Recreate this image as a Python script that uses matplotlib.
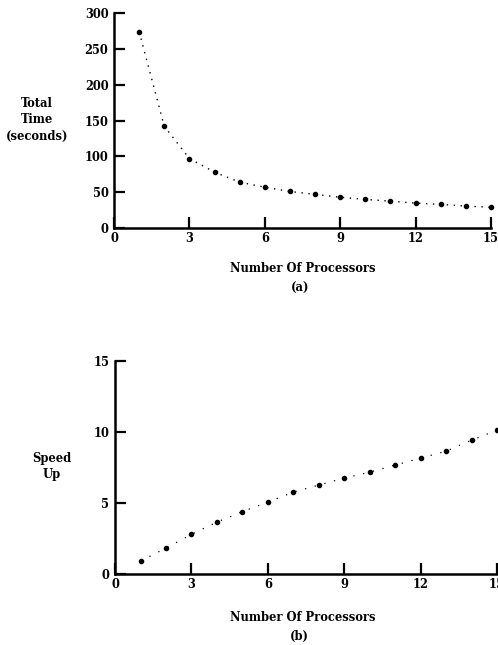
import matplotlib
matplotlib.use("Agg")
import matplotlib.pyplot as plt

# values
processors = [1, 2, 3, 4, 5, 6, 7, 8, 9, 10, 11, 12, 13, 14, 15]
total_time = [274, 142, 97, 78, 64, 57, 51, 47, 43, 40, 37.5, 34.7, 33, 30.6, 29]
speed_up = [0.92, 1.83, 2.8, 3.66, 4.4, 5.07, 5.77, 6.27, 6.76, 7.18, 7.68, 8.17, 8.66, 9.43, 10.14]

x_ticks = [0, 3, 6, 9, 12, 15]
time_ticks = [0, 50, 100, 150, 200, 250, 300]
speed_ticks = [0, 5, 10, 15]

plt.rcParams["font.family"] = ["DejaVu Serif"]
plt.rcParams["font.weight"] = "bold"
FS = 8.3

fig = plt.figure(figsize=(4.98, 6.45), dpi=100)
ax1 = fig.add_axes([0.229, 0.6465, 0.757, 0.333])
ax2 = fig.add_axes([0.231, 0.110, 0.767, 0.330])


def style(ax, yticks):
    for s in ["top", "right"]:
        ax.spines[s].set_visible(False)
    for s in ["left", "bottom"]:
        ax.spines[s].set_linewidth(1.8)
    ax.set_xticks(x_ticks)
    ax.set_yticks(yticks)
    ax.tick_params(direction="in", length=8, width=1.6, labelsize=FS, pad=4)
    ax.tick_params(axis="x", pad=3)
    for lab in ax.get_xticklabels() + ax.get_yticklabels():
        lab.set_fontweight("bold")


# (a) total time
ax1.plot(processors, total_time, color="black", lw=1.0, ls=(0, (1, 4)))
ax1.plot(processors, total_time, "o", color="black", ms=3.0)
ax1.set_xlim(0, 15)
ax1.set_ylim(0, 300)
style(ax1, time_ticks)

# (b) speed up
ax2.plot(processors, speed_up, color="black", lw=0.9, ls=(0, (1, 7)))
ax2.plot(processors, speed_up, "o", color="black", ms=3.0)
ax2.set_xlim(0, 15)
ax2.set_ylim(0, 15)
style(ax2, speed_ticks)

for ln in ax1.lines + ax2.lines:
    ln.set_clip_on(False)

fig.text(0.074, 0.814, "Total\nTime\n(seconds)", ha="center", va="center",
         fontsize=FS, fontweight="bold", linespacing=1.35)
fig.text(0.607, 0.584, "Number Of Processors", ha="center", va="center",
         fontsize=FS, fontweight="bold")
fig.text(0.602, 0.553, "(a)", ha="center", va="center",
         fontsize=FS, fontweight="bold")

fig.text(0.104, 0.277, "Speed\nUp", ha="center", va="center",
         fontsize=FS, fontweight="bold", linespacing=1.35)
fig.text(0.607, 0.043, "Number Of Processors", ha="center", va="center",
         fontsize=FS, fontweight="bold")
fig.text(0.602, 0.014, "(b)", ha="center", va="center",
         fontsize=FS, fontweight="bold")

fig.savefig("out.png", dpi=100)
